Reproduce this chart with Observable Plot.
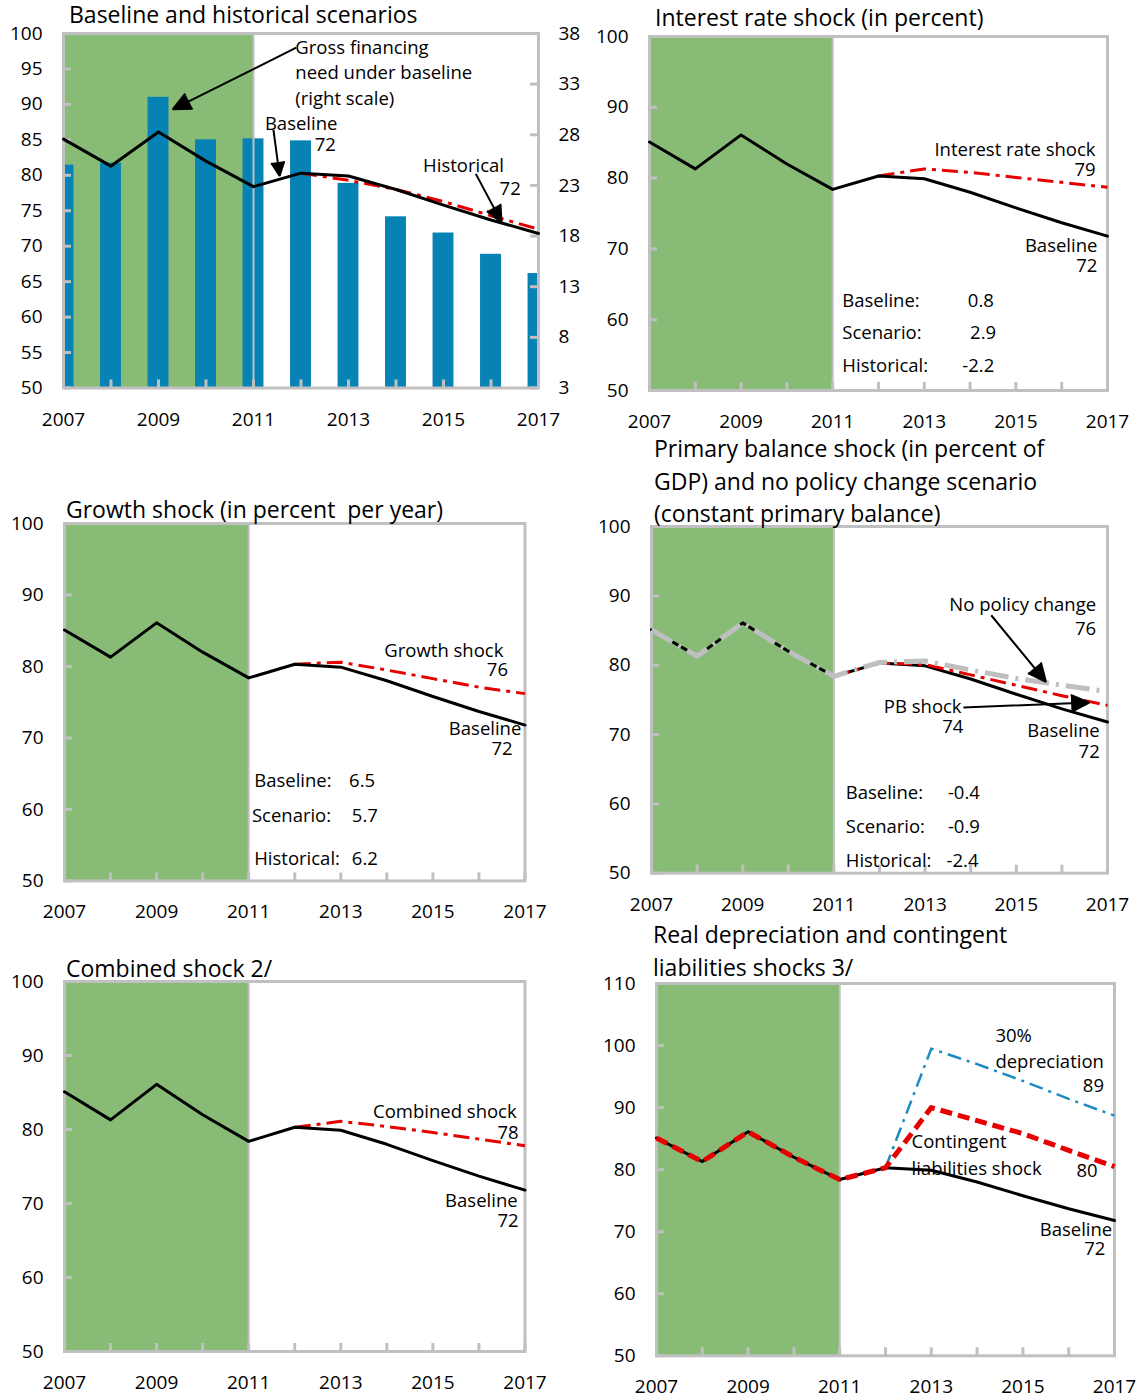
<!DOCTYPE html>
<html><head><meta charset="utf-8">
<script src="https://cdn.jsdelivr.net/npm/d3@7"></script>
<script src="https://cdn.jsdelivr.net/npm/@observablehq/plot@0.6"></script>
<style>
html,body{margin:0;padding:0;background:#fff;}
#root{position:relative;width:1138px;height:1393px;overflow:hidden;font-family:"Open Sans",sans-serif;color:#000;background:#fff;}
.panel{position:absolute;}
.panel svg{display:block;max-width:none;background:transparent;overflow:visible;}
#titles{position:absolute;left:0;top:0;pointer-events:none;}
</style></head><body><div id="root"></div>
<script>
// ---------------- data ----------------
const years = [2007, 2008, 2009, 2010, 2011, 2012, 2013, 2014, 2015, 2016, 2017];
const projYears = [2012, 2013, 2014, 2015, 2016, 2017];
const shockYears = [2011, 2012, 2013, 2014, 2015, 2016, 2017];
const histEnd = 2011;
const xLabelYears = [2007, 2009, 2011, 2013, 2015, 2017];

const baseline = [85.1, 81.3, 86.1, 82.0, 78.4, 80.3, 79.9, 78.0, 75.8, 73.7, 71.8];
// gross financing need under baseline (right scale)
const gfn = [25.0, 25.2, 31.7, 27.5, 27.6, 27.4, 23.2, 19.9, 18.3, 16.2, 14.3];
const gfnTicks = [3, 8, 13, 18, 23, 28, 33, 38];
const historical = [80.3, 79.3, 78.0, 76.3, 74.3, 72.4];          // 2012-2017
const interestShock = [80.3, 81.3, 80.8, 80.1, 79.4, 78.7];       // 2012-2017
const growthShock = [80.3, 80.6, 79.5, 78.3, 77.1, 76.2];         // 2012-2017
const pbShock = [78.4, 80.3, 80.1, 78.6, 77.1, 75.6, 74.2];       // 2011-2017
const noPolicy = [85.1, 81.3, 86.1, 82.0, 78.4, 80.4, 80.6, 79.3, 78.1, 77.1, 76.2];
const combinedShock = [80.3, 81.1, 80.4, 79.6, 78.7, 77.8];       // 2012-2017
const contingent = [85.1, 81.3, 86.1, 82.0, 78.4, 80.3, 90.0, 87.9, 85.8, 83.1, 80.5];
const depreciation = [80.3, 99.5, 97.0, 94.3, 91.4, 88.7];        // 2012-2017

const ticks5 = [50, 55, 60, 65, 70, 75, 80, 85, 90, 95, 100];
const ticks10 = [50, 60, 70, 80, 90, 100];
const ticks10b = [50, 60, 70, 80, 90, 100, 110];

const titles = [
  {x: 69, y: 23, lines: ["Baseline and historical scenarios"]},
  {x: 655, y: 26, lines: ["Interest rate shock (in percent)"]},
  {x: 66, y: 518, lines: ["Growth shock (in percent  per year)"]},
  {x: 654, y: 457, lines: ["Primary balance shock (in percent of", "GDP) and no policy change scenario", "(constant primary balance)"]},
  {x: 66, y: 977, lines: ["Combined shock 2/"]},
  {x: 653, y: 943, lines: ["Real depreciation and contingent", "liabilities shocks 3/"]}
];

// ---------------- styles ----------------
const GREEN = "#87BB76", GRID = "#C0C0C0", RED = "#E60000", BLUE = "#1A8BC3", BAR = "#0782B4", LGRAY = "#BFBFBF";
const FONT = "Open Sans";

const ser = (xs, ys) => xs.map((x, i) => ({x, y: ys[i]}));
const gfnToLeft = v => 50 + (v - 3) * 50 / 35;
const leftToGfn = v => 3 + (v - 50) * 35 / 50;

function labelMarks(list) {
  const st = list.filter(d => d.a === "start"), en = list.filter(d => d.a === "end");
  return [
    Plot.text(st, {x: "x", y: "y", text: "t", textAnchor: "start", fontSize: 18.5, fill: "#000"}),
    Plot.text(en, {x: "x", y: "y", text: "t", textAnchor: "end", fontSize: 18.5, fill: "#000"})
  ];
}
function arrowMarks(list) {
  return Plot.arrow(list, {x1: "x1", y1: "y1", x2: "x2", y2: "y2", stroke: "#000", fill: "#000",
    strokeWidth: 2, headLength: 15, headAngle: 50, strokeLinecap: "butt"});
}

function panel({L, R, T, B, ydom, yticks, marks, right = null, mB = 48}) {
  const mL = 62, mR = right ? 52 : 24, mT = 12;
  const W = R - L + mL + mR, H = B - T + mT + mB;
  const pxX = (R - L) / 10, pxY = (B - T) / (ydom[1] - ydom[0]);
  const bg = [
    Plot.rect([0], {x1: years[0], x2: histEnd, y1: ydom[0], y2: ydom[1], fill: GREEN})
  ];
  const fg = [
    Plot.ruleX([histEnd], {x: d => d, y1: ydom[0], y2: ydom[1], stroke: GRID, strokeWidth: 2}),
    Plot.frame({stroke: GRID, strokeWidth: 3}),
    Plot.ruleX(years, {x: d => d, y1: ydom[0], y2: ydom[0] + 8 / pxY, stroke: GRID, strokeWidth: 3}),
    Plot.ruleY(yticks, {y: d => d, x1: years[0], x2: years[0] + 8 / pxX, stroke: GRID, strokeWidth: 3}),
    Plot.axisX(xLabelYears, {tickSize: 0, tickPadding: 24, tickFormat: d => String(d), fontSize: 19, label: null}),
    Plot.axisY(yticks, {tickSize: 0, tickPadding: 21, tickFormat: d => String(d), fontSize: 19, label: null})
  ];
  if (right) {
    fg.push(Plot.ruleY(right.map(gfnToLeft), {y: d => d, x1: years[years.length - 1] - 8 / pxX, x2: years[years.length - 1], stroke: GRID, strokeWidth: 3}));
    fg.push(Plot.axisY(right.map(gfnToLeft), {anchor: "right", tickSize: 0, tickPadding: 20, fontSize: 19, label: null,
      tickFormat: d => String(Math.round(leftToGfn(d)))}));
  }
  const chart = Plot.plot({
    width: W, height: H, marginLeft: mL, marginRight: mR, marginTop: mT, marginBottom: mB,
    x: {domain: [years[0], years[years.length - 1]], label: null},
    y: {domain: ydom, label: null},
    style: {fontFamily: FONT, fontSize: "19px", color: "#000", background: "transparent", overflow: "visible"},
    marks: [...bg, ...marks.under, ...fg, ...marks.over]
  });
  const div = document.createElement("div");
  div.className = "panel";
  div.style.left = (L - mL) + "px";
  div.style.top = (T - mT) + "px";
  div.appendChild(chart);
  document.getElementById("root").appendChild(div);
}

const lineOpts = (stroke, w, dash) => ({x: "x", y: "y", stroke, strokeWidth: w, strokeDasharray: dash,
  strokeLinecap: dash ? "butt" : "round", strokeLinejoin: "round"});
const DASHDOT = "16,6,4,6";

// ---------------- Panel 1 ----------------
panel({
  L: 63, R: 538, T: 33, B: 387.5, ydom: [50, 100], yticks: ticks5, right: gfnTicks,
  marks: {
    under: [
      Plot.rect(ser(years, gfn), {x1: d => d.x - 0.22, x2: d => d.x + 0.22, y1: 50, y2: d => gfnToLeft(d.y), fill: BAR, clip: true})
    ],
    over: [
      Plot.line(ser(projYears, historical), lineOpts(RED, 3, DASHDOT)),
      Plot.line(ser(years, baseline), lineOpts("#000", 3)),
      ...labelMarks([
        {x: 2011.88, y: 98.0, t: "Gross financing", a: "start"},
        {x: 2011.88, y: 94.4, t: "need under baseline", a: "start"},
        {x: 2011.88, y: 90.7, t: "(right scale)", a: "start"},
        {x: 2011.24, y: 87.2, t: "Baseline", a: "start"},
        {x: 2012.29, y: 84.3, t: "72", a: "start"},
        {x: 2014.57, y: 81.3, t: "Historical", a: "start"},
        {x: 2016.18, y: 78.0, t: "72", a: "start"}
      ]),
      arrowMarks([
        {x1: 2011.9, y1: 98.0, x2: 2009.3, y2: 89.3},
        {x1: 2011.42, y1: 86.4, x2: 2011.55, y2: 79.9},
        {x1: 2015.68, y1: 80.2, x2: 2016.22, y2: 73.4}
      ])
    ]
  }
});

// ---------------- Panel 2 ----------------
panel({
  L: 649, R: 1107, T: 36, B: 390, ydom: [50, 100], yticks: ticks10,
  marks: {
    under: [],
    over: [
      Plot.line(ser(projYears, interestShock), lineOpts(RED, 3, DASHDOT)),
      Plot.line(ser(years, baseline), lineOpts("#000", 3)),
      ...labelMarks([
        {x: 2016.74, y: 84.0, t: "Interest rate shock", a: "end"},
        {x: 2016.74, y: 81.2, t: "79", a: "end"},
        {x: 2016.78, y: 70.4, t: "Baseline", a: "end"},
        {x: 2016.78, y: 67.6, t: "72", a: "end"},
        {x: 2011.21, y: 62.7, t: "Baseline:", a: "start"},
        {x: 2013.95, y: 62.7, t: "0.8", a: "start"},
        {x: 2011.21, y: 58.1, t: "Scenario:", a: "start"},
        {x: 2014.0, y: 58.1, t: "2.9", a: "start"},
        {x: 2011.21, y: 53.4, t: "Historical:", a: "start"},
        {x: 2013.83, y: 53.4, t: "-2.2", a: "start"}
      ])
    ]
  }
});

// ---------------- Panel 3 ----------------
panel({
  L: 64, R: 524.5, T: 523.3, B: 880.7, ydom: [50, 100], yticks: ticks10,
  marks: {
    under: [],
    over: [
      Plot.line(ser(projYears, growthShock), lineOpts(RED, 3, DASHDOT)),
      Plot.line(ser(years, baseline), lineOpts("#000", 3)),
      ...labelMarks([
        {x: 2016.53, y: 82.2, t: "Growth shock", a: "end"},
        {x: 2016.63, y: 79.5, t: "76", a: "end"},
        {x: 2016.92, y: 71.3, t: "Baseline", a: "end"},
        {x: 2016.73, y: 68.4, t: "72", a: "end"},
        {x: 2011.12, y: 63.9, t: "Baseline:", a: "start"},
        {x: 2013.18, y: 63.9, t: "6.5", a: "start"},
        {x: 2011.07, y: 59.0, t: "Scenario:", a: "start"},
        {x: 2013.24, y: 59.0, t: "5.7", a: "start"},
        {x: 2011.12, y: 53.0, t: "Historical:", a: "start"},
        {x: 2013.24, y: 53.0, t: "6.2", a: "start"}
      ])
    ]
  }
});

// ---------------- Panel 4 ----------------
panel({
  L: 651, R: 1107, T: 526, B: 872.7, ydom: [50, 100], yticks: ticks10,
  marks: {
    under: [],
    over: [
      Plot.line(ser(years, baseline), lineOpts("#000", 3)),
      Plot.line(ser(shockYears, pbShock), lineOpts(RED, 3, DASHDOT)),
      Plot.line(ser(years, noPolicy), lineOpts(LGRAY, 5, "24,7,3,7")),
      ...labelMarks([
        {x: 2016.75, y: 88.6, t: "No policy change", a: "end"},
        {x: 2016.75, y: 85.2, t: "76", a: "end"},
        {x: 2013.8, y: 74.0, t: "PB shock", a: "end"},
        {x: 2013.84, y: 71.1, t: "74", a: "end"},
        {x: 2016.83, y: 70.5, t: "Baseline", a: "end"},
        {x: 2016.83, y: 67.5, t: "72", a: "end"},
        {x: 2011.26, y: 61.5, t: "Baseline:", a: "start"},
        {x: 2013.5, y: 61.5, t: "-0.4", a: "start"},
        {x: 2011.26, y: 56.6, t: "Scenario:", a: "start"},
        {x: 2013.5, y: 56.6, t: "-0.9", a: "start"},
        {x: 2011.26, y: 51.8, t: "Historical:", a: "start"},
        {x: 2013.47, y: 51.8, t: "-2.4", a: "start"}
      ]),
      arrowMarks([
        {x1: 2014.45, y1: 87.2, x2: 2015.65, y2: 77.6},
        {x1: 2013.84, y1: 73.9, x2: 2016.6, y2: 74.6}
      ])
    ]
  }
});

// ---------------- Panel 5 ----------------
panel({
  L: 64, R: 524.5, T: 981, B: 1351, ydom: [50, 100], yticks: ticks10, mB: 41,
  marks: {
    under: [],
    over: [
      Plot.line(ser(projYears, combinedShock), lineOpts(RED, 3, DASHDOT)),
      Plot.line(ser(years, baseline), lineOpts("#000", 3)),
      ...labelMarks([
        {x: 2016.82, y: 82.3, t: "Combined shock", a: "end"},
        {x: 2016.86, y: 79.5, t: "78", a: "end"},
        {x: 2016.84, y: 70.3, t: "Baseline", a: "end"},
        {x: 2016.86, y: 67.6, t: "72", a: "end"}
      ])
    ]
  }
});

// ---------------- Panel 6 ----------------
panel({
  L: 655.5, R: 1113.5, T: 982.7, B: 1355, ydom: [50, 110], yticks: ticks10b, mB: 38,
  marks: {
    under: [],
    over: [
      Plot.line(ser(years, baseline), lineOpts("#000", 3)),
      Plot.line(ser(projYears, depreciation), lineOpts(BLUE, 2.5, "14,6,3,6")),
      Plot.line(ser(years, contingent), lineOpts(RED, 5, "12,6")),
      ...labelMarks([
        {x: 2014.4, y: 101.6, t: "30%", a: "start"},
        {x: 2014.4, y: 97.3, t: "depreciation", a: "start"},
        {x: 2016.77, y: 93.4, t: "89", a: "end"},
        {x: 2012.57, y: 84.4, t: "Contingent", a: "start"},
        {x: 2012.57, y: 80.1, t: "liabilities shock", a: "start"},
        {x: 2016.63, y: 79.8, t: "80", a: "end"},
        {x: 2016.95, y: 70.3, t: "Baseline", a: "end"},
        {x: 2016.8, y: 67.2, t: "72", a: "end"}
      ])
    ]
  }
});

// ---------------- titles ----------------
const tsvg = d3.select("#root").append("svg").attr("id", "titles").attr("width", 1138).attr("height", 1393);
titles.forEach(t => {
  t.lines.forEach((ln, i) => {
    tsvg.append("text").attr("x", t.x).attr("y", t.y + i * 32.5)
      .attr("font-family", FONT).attr("font-size", 23).attr("fill", "#000")
      .attr("xml:space", "preserve").style("white-space", "pre").text(ln);
  });
});
</script></body></html>
